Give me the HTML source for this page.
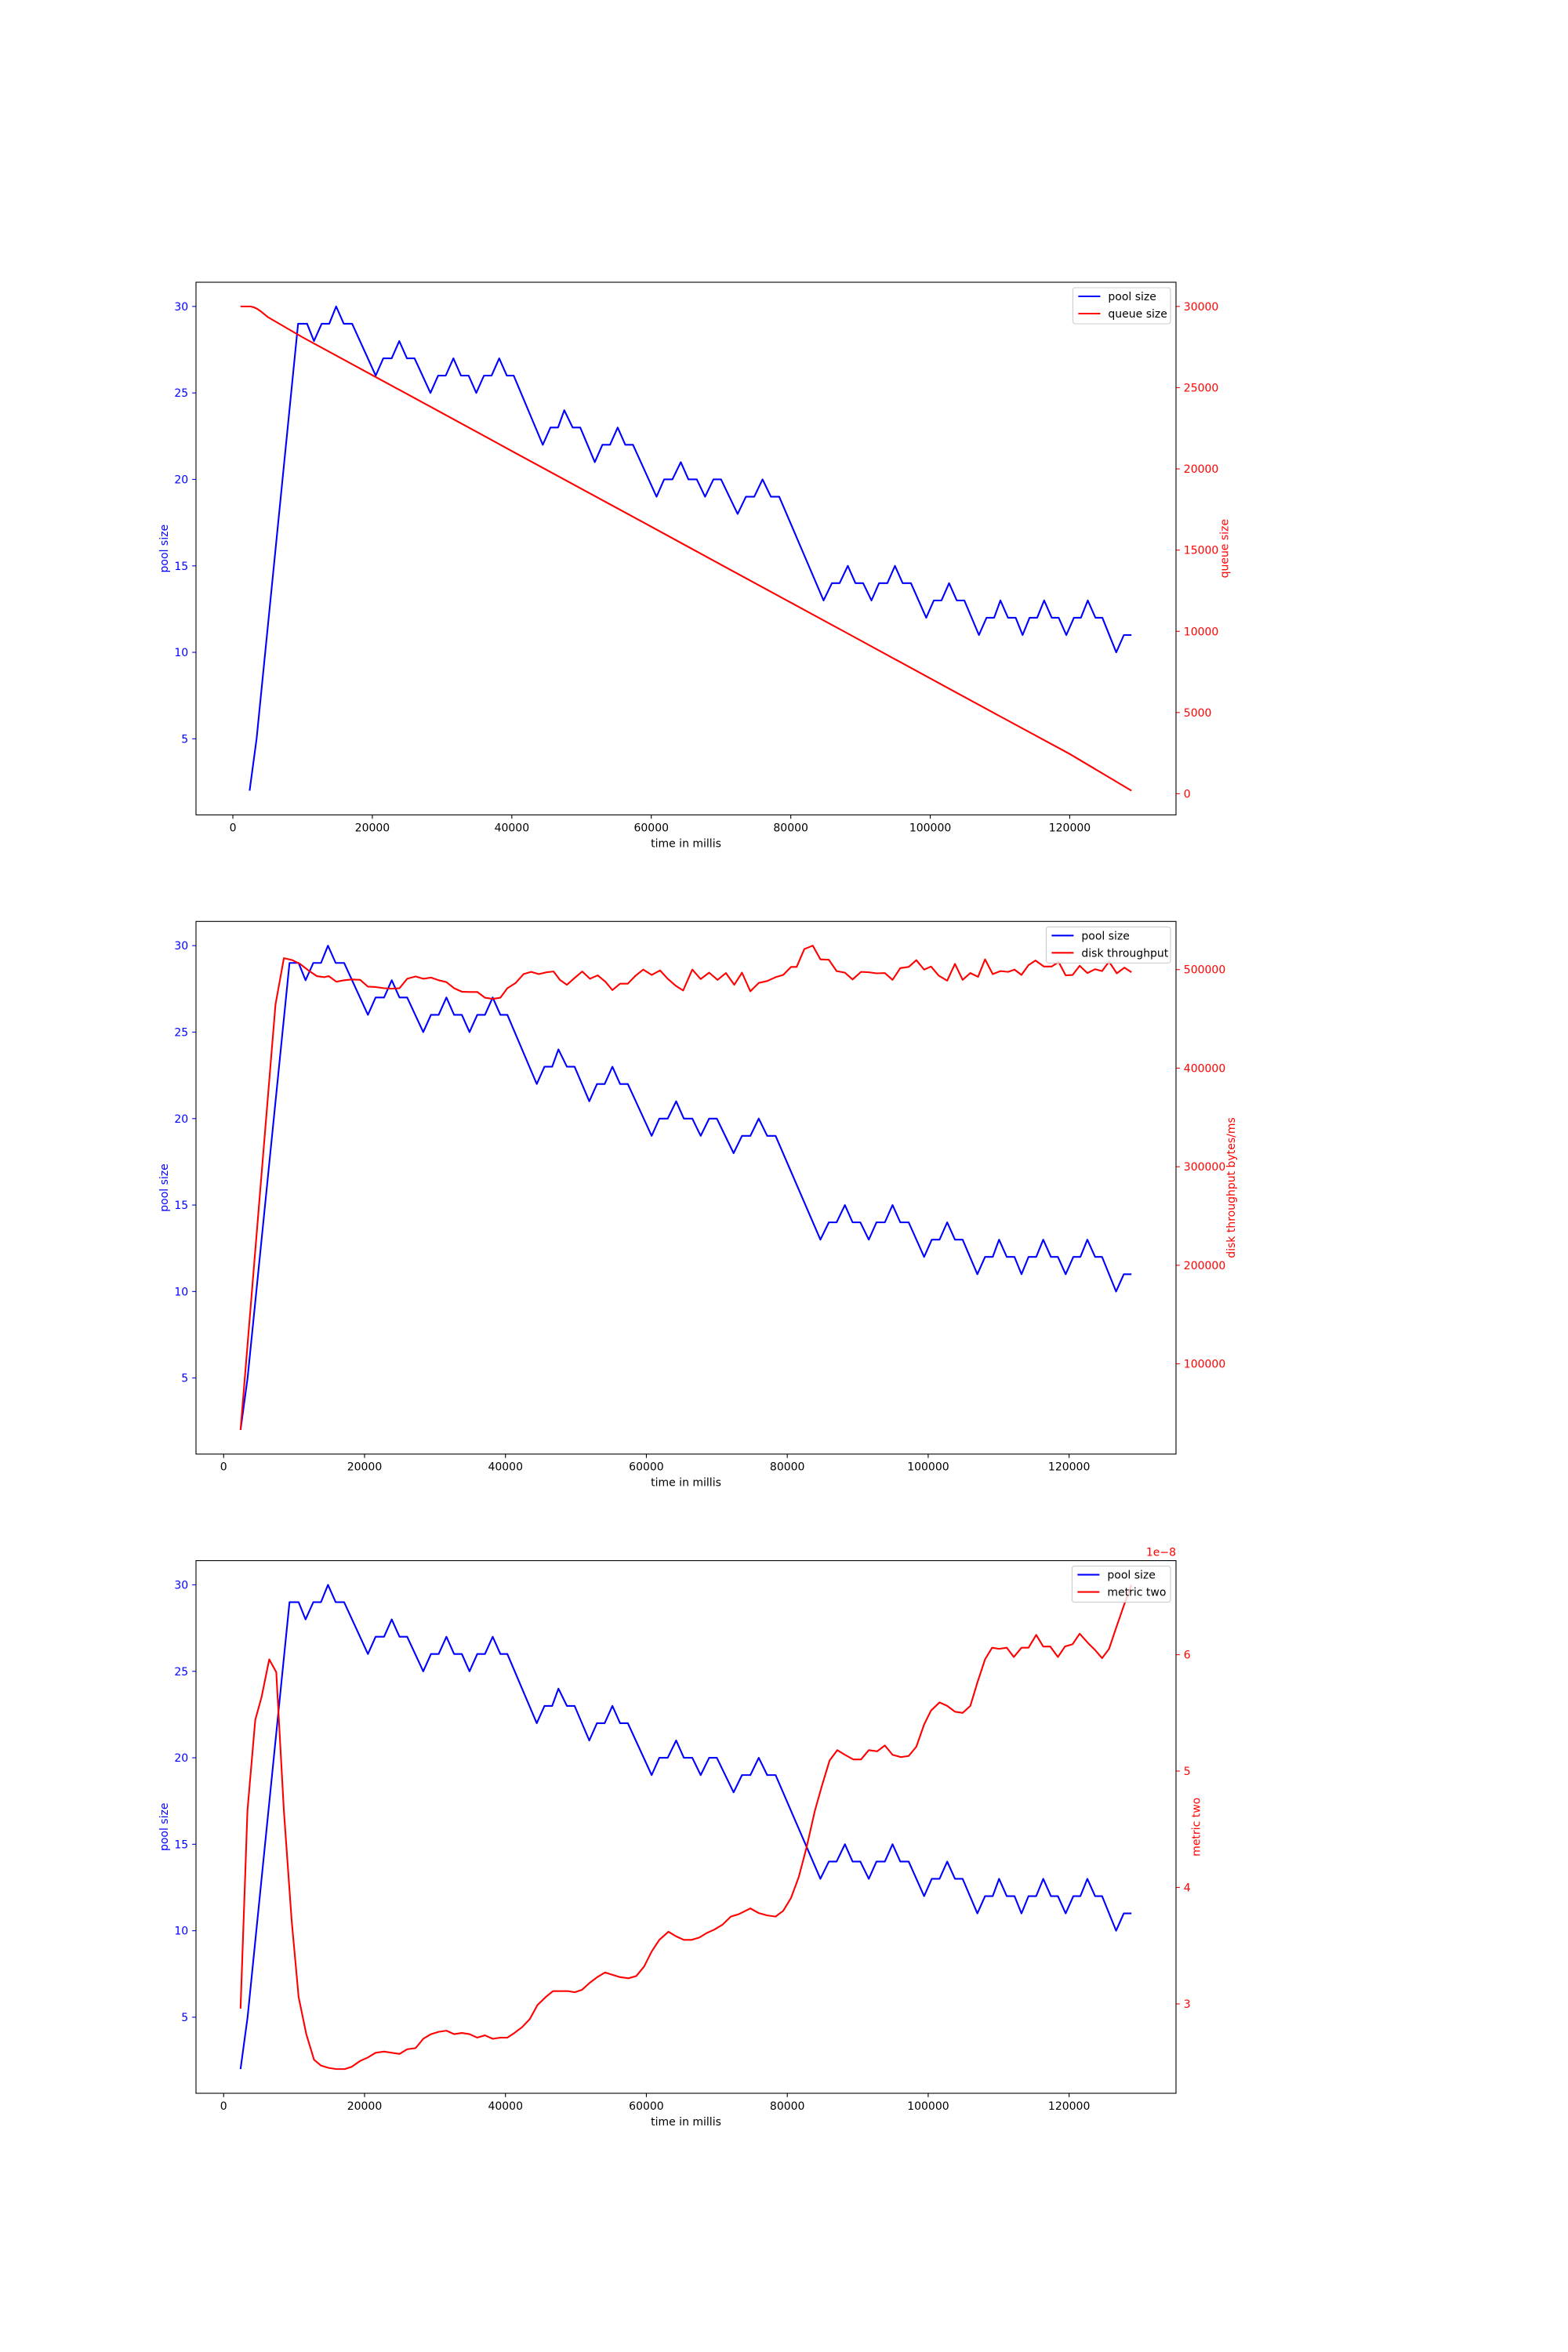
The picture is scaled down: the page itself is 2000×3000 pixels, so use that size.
<!DOCTYPE html>
<html><head><meta charset="utf-8"><style>
html,body{margin:0;padding:0;background:#fff}
svg{display:block;font-family:"DejaVu Sans","Liberation Sans",sans-serif}
</style></head><body>
<svg id="fig" width="2000" height="3000" viewBox="0 0 2000 3000" xmlns="http://www.w3.org/2000/svg">
<rect x="0" y="0" width="2000" height="3000" fill="#fff"/>
</svg>
<script>
const poolTimes=[2400,3400,9350,10640,11630,12730,13820,14810,15900,17100,20480,21570,22770,23860,24960,26050,28330,29430,30520,31620,32710,33810,34900,36000,37090,38190,39280,40270,44440,45540,46630,47520,48720,49810,51900,52990,54080,55180,56270,57370,60750,61840,63030,64230,65320,66520,67710,68910,70000,72380,73570,74760,75950,77150,78340,84700,85900,87000,88180,89270,90370,91570,92660,93850,94940,96040,97230,99420,100510,101610,102700,103800,104890,106980,108070,109160,110060,111150,112250,113240,114240,115330,116330,117420,118410,119510,120600,121600,122590,123690,124680,126670,127760,128850];
const poolValues=[2,5,29,29,28,29,29,30,29,29,26,27,27,28,27,27,25,26,26,27,26,26,25,26,26,27,26,26,22,23,23,24,23,23,21,22,22,23,22,22,19,20,20,21,20,20,19,20,20,18,19,19,20,19,19,13,14,14,15,14,14,13,14,14,15,14,14,12,13,13,14,13,13,11,12,12,13,12,12,11,12,12,13,12,12,11,12,12,13,12,12,10,11,11];
const queueTimes=[1100,2500,3000,3500,4000,5000,10000,20000,30000,40000,50000,60000,70000,80000,90000,100000,110000,120000,128850];
const queueValues=[30000,30000,29950,29850,29700,29350,28100,25770,23440,21100,18770,16440,14100,11770,9440,7100,4770,2450,190];
const diskTimes=[2400,7360,8550,9750,10840,12030,13220,14320,14910,16000,17100,18190,19380,20480,21570,22770,23860,24960,26050,27250,28330,29430,30520,31620,32710,33810,34900,36000,37090,38190,39280,40270,41460,42560,43650,44740,45830,46830,47720,48720,49810,50900,51990,53090,54180,55180,56270,57370,58460,59560,60750,61940,63030,64130,65220,66520,67710,68910,70100,71290,72480,73570,74760,75950,77150,78340,79430,80530,81330,82420,83620,84700,85900,87000,88180,89270,90470,91570,92660,93850,94940,96040,97230,98320,99420,100400,101510,102700,103800,104890,105980,107080,108070,109160,110260,111350,112250,113240,114240,115230,116430,117520,118510,119510,120500,121500,122590,123690,124680,125670,126770,127860,128850];
const diskValues=[33000,464500,511600,509600,505800,499200,493400,492300,493400,487700,489200,490000,489600,482700,482300,481100,480700,481100,490700,493000,490700,491900,489200,487300,481100,477600,477300,477300,471500,470300,471500,481100,486500,495400,497700,495400,497300,498100,489600,484600,491500,498100,490700,494200,487700,479200,485700,485700,493800,500000,494600,499200,490700,483800,478800,500000,490400,496900,489600,496500,484600,496900,478000,486500,488400,492300,494600,502700,502700,520800,524300,510400,510000,498500,496900,490000,497700,497300,496200,496500,489600,501500,502700,509600,500000,503100,493800,488800,505800,489600,496500,492700,510400,495400,498500,497700,500000,494600,504600,509200,503100,503100,507700,494200,494600,503900,496500,500400,498500,508100,496200,502000,497300];
const metricTimes=[2400,3380,4490,5400,6470,7470,8550,9650,10640,11730,12830,13820,14910,16000,17200,18190,19380,20480,21570,22770,23860,24960,26050,27250,28330,29430,30520,31620,32710,33810,34900,36000,37090,38190,39280,40270,41270,42360,43460,44540,45740,46750,47740,48840,49840,50840,51940,53030,54130,55180,56270,57470,58580,59670,60750,61840,63130,64230,65320,66420,67510,68610,69700,70800,71990,73080,74760,75950,77150,78340,79430,80530,81630,82720,83920,84900,86000,87100,88180,89380,90470,91570,92760,93850,94940,96140,97230,98320,99420,100400,101610,102700,103800,104890,105980,106980,108070,109070,110060,111150,112150,113240,114240,115330,116330,117320,118410,119410,120500,121500,122690,123690,124680,125670,126670,127760,128850];
const metricValues=[2.96,4.66,5.44,5.64,5.96,5.85,4.66,3.72,3.06,2.74,2.52,2.47,2.45,2.44,2.44,2.46,2.51,2.54,2.58,2.59,2.58,2.57,2.61,2.62,2.70,2.74,2.76,2.77,2.74,2.75,2.74,2.71,2.73,2.70,2.71,2.71,2.75,2.80,2.87,2.99,3.06,3.11,3.11,3.11,3.10,3.12,3.18,3.23,3.27,3.25,3.23,3.22,3.24,3.32,3.45,3.55,3.62,3.58,3.55,3.55,3.57,3.61,3.64,3.68,3.75,3.77,3.82,3.78,3.76,3.75,3.80,3.91,4.09,4.34,4.66,4.87,5.09,5.18,5.14,5.10,5.10,5.18,5.17,5.22,5.14,5.12,5.13,5.21,5.40,5.52,5.59,5.56,5.51,5.50,5.56,5.76,5.96,6.06,6.05,6.06,5.98,6.06,6.06,6.17,6.07,6.07,5.98,6.07,6.09,6.18,6.10,6.04,5.97,6.05,6.23,6.42,6.60];
const xTicks=[0,20000,40000,60000,80000,100000,120000];
const poolTicks=[5,10,15,20,25,30];
const queueTicks=[0,5000,10000,15000,20000,25000,30000];
const diskTicks=[100000,200000,300000,400000,500000];
const metricTicks=[3,4,5,6];

const NS='http://www.w3.org/2000/svg';
const fig=document.getElementById('fig');
function mk(tag,attrs,parent){const e=document.createElementNS(NS,tag);for(const k in attrs)e.setAttribute(k,attrs[k]);(parent||fig).appendChild(e);return e;}
function lim(arrs){let mn=Infinity,mx=-Infinity;arrs.forEach(a=>a.forEach(v=>{if(v<mn)mn=v;if(v>mx)mx=v;}));const r=mx-mn;return [mn-0.05*r,mx+0.05*r];}

const L=250,R=1500;
function chart(idx,top,bottom,rTimes,rVals,rTicks,rLabel,rName,rTickFmt,offsetText){
  const g=mk('g',{});
  
  
  const [x0,x1]=lim([poolTimes,rTimes]);
  const [p0,p1]=lim([poolValues]);
  const [r0,r1]=lim([rVals]);
  const sx=v=>L+(v-x0)/(x1-x0)*(R-L);
  const sp=v=>bottom-(v-p0)/(p1-p0)*(bottom-top);
  const sr=v=>bottom-(v-r0)/(r1-r0)*(bottom-top);
  xTicks.forEach(t=>{
    const x=sx(t);
    const tk=mk('line',{x1:x,x2:x,y1:bottom,y2:bottom+4.9,stroke:'#000','stroke-width':1.1},g);
    
    
    const tl=mk('text',{x:x,y:bottom+21,'font-size':14,'text-anchor':'middle',fill:'#000'},g);
    tl.textContent=t;
    
    
  });
  const xl=mk('text',{x:(L+R)/2,y:bottom+41,'font-size':14,'text-anchor':'middle',fill:'#000'},g);
  xl.textContent='time in millis';
  
  
  poolTicks.forEach(t=>{
    const y=sp(t);
    const tk=mk('line',{x1:L-4.9,x2:L,y1:y,y2:y,stroke:'#00f','stroke-width':1.1},g);
    
    
    const tl=mk('text',{x:L-9.8,y:y+5,'font-size':14,'text-anchor':'end',fill:'#00f'},g);
    tl.textContent=t;
    
    
  });
  const yl=mk('text',{x:0,y:0,'font-size':14,'text-anchor':'middle',fill:'#00f',transform:`translate(${214},${(top+bottom)/2}) rotate(-90)`},g);
  yl.textContent='pool size';
  
  
  let maxw=0;
  rTicks.forEach(t=>{
    const y=sr(t);
    const tk=mk('line',{x1:R,x2:R+4.9,y1:y,y2:y,stroke:'#f00','stroke-width':1.1},g);
    
    
    const s=rTickFmt(t);
    maxw=Math.max(maxw,s.length*8.9);
    const tl=mk('text',{x:R+9.8,y:y+5,'font-size':14,'text-anchor':'start',fill:'#f00'},g);
    tl.textContent=s;
    
    
  });
  const rl=mk('text',{x:0,y:0,'font-size':14,'text-anchor':'middle',fill:'#f00',transform:`translate(${R+9.8+maxw+12},${(top+bottom)/2}) rotate(-90)`},g);
  rl.textContent=rLabel;
  
  
  if(offsetText){
    const ot=mk('text',{x:R,y:top-6,'font-size':14,'text-anchor':'end',fill:'#f00'},g);
    ot.textContent=offsetText;
    
    
  }
  const cp=mk('clipPath',{id:'clip'+idx},g);
  mk('rect',{x:L,y:top,width:R-L,height:bottom-top},cp);
  const pool=mk('polyline',{points:poolTimes.map((t,i)=>sx(t)+','+sp(poolValues[i])).join(' '),fill:'none',stroke:'#00f','stroke-width':2.1,'stroke-linejoin':'round','clip-path':`url(#clip${idx})`},g);
  
  
  const rl2=mk('polyline',{points:rTimes.map((t,i)=>sx(t)+','+sr(rVals[i])).join(' '),fill:'none',stroke:'#f00','stroke-width':2.1,'stroke-linejoin':'round','clip-path':`url(#clip${idx})`},g);
  
  
  const fr=mk('rect',{x:L,y:top,width:R-L,height:bottom-top,fill:'none',stroke:'#000','stroke-width':1.1},g);
  
  
  const tw=rName==='queue-size'?74:(rName==='disk-throughput'?108:75);
  const right=R-7, lw=5.6+28+11+tw+6;
  const lg=mk('g',{},g);
  
  
  mk('rect',{x:right-lw,y:top+7,width:lw,height:46,rx:3,fill:'#fff','fill-opacity':0.8,stroke:'#ccc','stroke-width':1.1},lg);
  const names=['pool size',rName==='queue-size'?'queue size':(rName==='disk-throughput'?'disk throughput':'metric two')];
  ['#00f','#f00'].forEach((c,i)=>{
    const y=top+18+i*22;
    const e=mk('g',{},lg);
    
    
    mk('line',{x1:right-lw+7,x2:right-lw+35,y1:y,y2:y,stroke:c,'stroke-width':2.1},e);
    const t=mk('text',{x:right-lw+45,y:y+5,'font-size':14,fill:'#000'},e);
    t.textContent=names[i];
  });
}
chart(1,360,1039.4,queueTimes,queueValues,queueTicks,'queue size','queue-size',t=>String(t),null);
chart(2,1175.3,1854.7,diskTimes,diskValues,diskTicks,'disk throughput bytes/ms','disk-throughput',t=>String(t),null);
chart(3,1990.6,2670,metricTimes,metricValues,metricTicks,'metric two','metric-two',t=>String(t),'1e\u22128');
</script>
</body></html>
